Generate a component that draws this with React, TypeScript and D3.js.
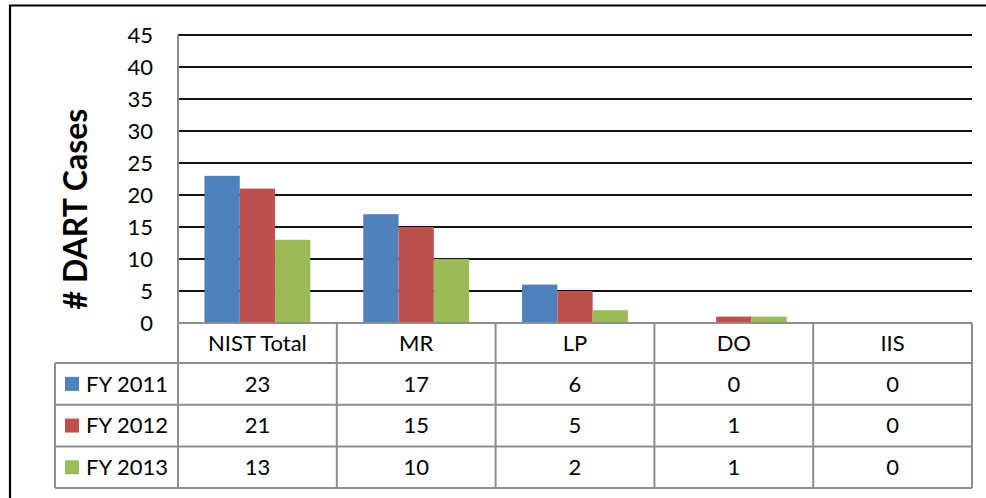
import * as d3 from 'd3';

const categories = ['NIST Total', 'MR', 'LP', 'DO', 'IIS'];
const seriesNames = ['FY 2011', 'FY 2012', 'FY 2013'];
const fy2011 = [23, 17, 6, 0, 0];
const fy2012 = [21, 15, 5, 1, 0];
const fy2013 = [13, 10, 2, 1, 0];
const seriesValues = [fy2011, fy2012, fy2013];
const seriesColors = ['#4F81BD', '#C0504D', '#9BBB59'];
const yTicks = [0, 5, 10, 15, 20, 25, 30, 35, 40, 45];

const W = 986;
const H = 498;
const plot = { left: 178, right: 972, top: 35, bottom: 323 };
const tableLeft = 55;
const headerBottom = 363;
const rowH = 41.7;
const FONT = 'Lato, "Open Sans", sans-serif';
const FS = 22;
const GRID = '#8e8e8e';

export default function App() {
  const x = d3.scaleBand<string>().domain(categories).range([plot.left, plot.right]);
  // gap width 150% -> 1.5 bar widths of outer padding per category
  const barW = x.bandwidth() / 4.5;
  const inner = d3
    .scaleBand<string>()
    .domain(seriesNames)
    .range([x.bandwidth() * (1.5 / 4.5) / 2, x.bandwidth() - x.bandwidth() * (1.5 / 4.5) / 2]);
  const y = d3.scaleLinear().domain([0, 45]).range([plot.bottom, plot.top]);

  const rowTop = (i: number) => headerBottom + i * rowH;
  const tableBottom = rowTop(seriesNames.length);

  return (
    <svg width={W} height={H} style={{ position: 'absolute', left: 0, top: 0 }} fontFamily={FONT}>
      <rect width={W} height={H} fill="#fff" />
      {/* outer frame (left and top visible) */}
      <line x1={10} x2={10} y1={5} y2={H} stroke="#000" strokeWidth={2.2} />
      <line x1={9} x2={W} y1={5.5} y2={5.5} stroke="#000" strokeWidth={2.2} />

      {/* gridlines */}
      {yTicks.filter((t) => t > 0).map((t) => (
        <line key={t} x1={plot.left} x2={plot.right} y1={y(t)} y2={y(t)} stroke="#111" strokeWidth={1.8} />
      ))}

      {/* y tick labels */}
      {yTicks.map((t) => (
        <text key={t} x={153} y={y(t)} dy="0.35em" textAnchor="end" fontSize={FS} fill="#000">
          {t}
        </text>
      ))}

      {/* y title */}
      <text
        transform={`translate(76,${(plot.top + plot.bottom) / 2 + 30}) rotate(-90)`}
        textAnchor="middle"
        dy="0.35em"
        fontSize={32}
        fontWeight="bold"
        fill="#000"
      >
        # DART Cases
      </text>

      {/* bars */}
      {categories.map((c, ci) =>
        seriesNames.map((s, si) => {
          const v = seriesValues[si][ci];
          if (!v) return null;
          return (
            <rect
              key={c + s}
              x={(x(c) ?? 0) + (inner(s) ?? 0)}
              y={y(v)}
              width={barW}
              height={y(0) - y(v)}
              fill={seriesColors[si]}
            />
          );
        })
      )}

      {/* data table */}
      <g stroke={GRID} strokeWidth={2} fill="none">
        <line x1={plot.left} x2={plot.left} y1={plot.top} y2={tableBottom} />
        <line x1={plot.left} x2={plot.right} y1={plot.bottom} y2={plot.bottom} />
        <line x1={plot.right} x2={plot.right} y1={plot.bottom} y2={tableBottom} />
        {categories.slice(1).map((c) => (
          <line key={c} x1={x(c)} x2={x(c)} y1={plot.bottom} y2={tableBottom} />
        ))}
        <line x1={tableLeft} x2={tableLeft} y1={headerBottom} y2={tableBottom} />
        {seriesNames.map((s, i) => (
          <line key={s} x1={tableLeft} x2={plot.right} y1={rowTop(i)} y2={rowTop(i)} />
        ))}
        <line x1={tableLeft} x2={plot.right} y1={tableBottom} y2={tableBottom} />
      </g>

      {categories.map((c) => (
        <text
          key={c}
          x={(x(c) ?? 0) + x.bandwidth() / 2}
          y={(plot.bottom + headerBottom) / 2}
          dy="0.35em"
          textAnchor="middle"
          fontSize={FS}
          fill="#000"
        >
          {c}
        </text>
      ))}

      {seriesNames.map((s, si) => (
        <g key={s}>
          <rect x={65} y={rowTop(si) + rowH / 2 - 7} width={14} height={14} fill={seriesColors[si]} />
          <text x={86} y={rowTop(si) + rowH / 2} dy="0.35em" fontSize={FS} fill="#000">
            {s}
          </text>
          {categories.map((c, ci) => (
            <text
              key={c}
              x={(x(c) ?? 0) + x.bandwidth() / 2}
              y={rowTop(si) + rowH / 2}
              dy="0.35em"
              textAnchor="middle"
              fontSize={FS}
              fill="#000"
            >
              {seriesValues[si][ci]}
            </text>
          ))}
        </g>
      ))}
    </svg>
  );
}
